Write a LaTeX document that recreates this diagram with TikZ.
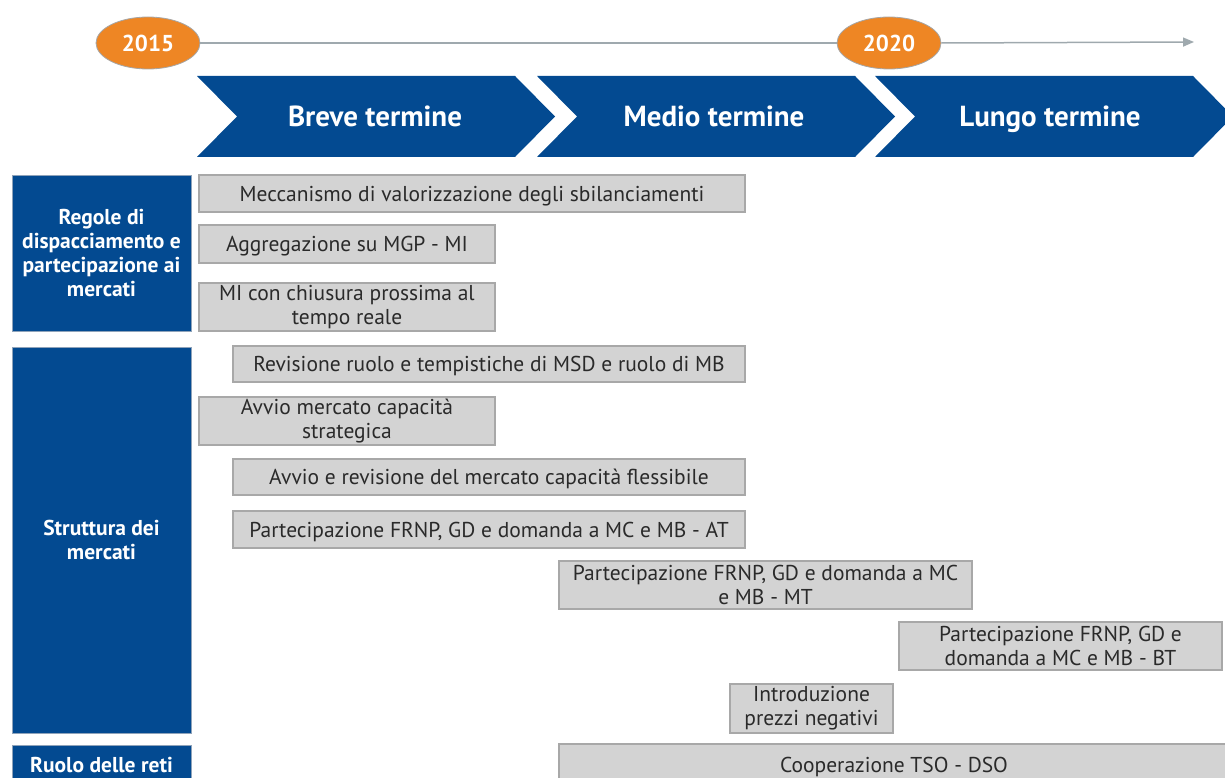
\documentclass[tikz,border=0pt]{standalone}
\usepackage{fontspec}
\setmainfont{PT Sans}
\usetikzlibrary{shapes.geometric,arrows.meta}
\definecolor{navy}{HTML}{034A91}
\definecolor{tlorange}{HTML}{EE8624}
\definecolor{boxgray}{HTML}{D3D3D3}
\definecolor{edgegray}{HTML}{A8A8A8}
\definecolor{linegray}{HTML}{9FA9AE}
\definecolor{areaedge}{HTML}{8FA3BA}
\definecolor{txt}{HTML}{2A2A2A}
\begin{document}
\begin{tikzpicture}[x=1pt,y=-1pt,
  task/.style={draw=edgegray, line width=1.2pt, fill=boxgray, anchor=north west,
    inner sep=1pt, outer sep=0pt, align=center, text=txt,
    font=\fontsize{21.5}{24}\selectfont},
  area/.style={draw=areaedge, line width=1pt, fill=navy, anchor=north west,
    inner sep=1pt, outer sep=0pt, align=center, text=white, minimum width=179,
    font=\fontsize{21.5}{24}\selectfont\bfseries},
  oneline/.style={text height=15.5pt, text depth=0pt},
  year/.style={ellipse, fill=tlorange, draw=gray!70, line width=0.8pt,
    minimum width=104, minimum height=52, inner sep=0pt, text=white,
    font=\fontsize{23}{24}\selectfont\bfseries},
  phase/.style={fill=navy},
  phaselabel/.style={anchor=base, text=white,
    font=\fontsize{29}{30}\selectfont\bfseries}]
\clip (0,0) rectangle (1225,778);

% timeline
\node[year] (y2015) at (148,43) {2015};
\node[year] (y2020) at (889,43) {2020};
\coordinate (tlend) at (1194,42);
\draw[linegray, line width=1.5pt] (y2015.east) -- (y2020.west);
\draw[linegray, line width=1.5pt, -{Triangle[length=11pt,width=9pt]}] (y2020.east) -- (tlend);

% phases
\path[phase] (197,76) -- (515,76) -- (555,116.5) -- (515,157) -- (197,157) -- (237,116.5) -- cycle;
\path[phase] (537,76) -- (855,76) -- (895,116.5) -- (855,157) -- (537,157) -- (577,116.5) -- cycle;
\path[phase] (875,76) -- (1193,76) -- (1233,116.5) -- (1193,157) -- (875,157) -- (915,116.5) -- cycle;
\node[phaselabel] (p1) at (375,127) {Breve termine};
\node[phaselabel] (p2) at (714,127) {Medio termine};
\node[phaselabel] (p3) at (1050,127) {Lungo termine};

% areas
\node[area, minimum height=155] (a1) at (12,176)
  {Regole di\\dispacciamento e\\partecipazione ai\\mercati};
\node[area, minimum height=386] (a2) at (12,347) {Struttura dei\\mercati};
\node[area, oneline, minimum height=40] (a3) at (12,745) {Ruolo delle reti};

% measures
\node[task, oneline, minimum width=546, minimum height=37] (t1) at (199,175)
  {Meccanismo di valorizzazione degli sbilanciamenti};
\node[task, oneline, minimum width=296, minimum height=38] (t2) at (199,225)
  {Aggregazione su MGP - MI};
\node[task, minimum width=296, minimum height=48] (t3) at (199,283)
  {MI con chiusura prossima al\\tempo reale};
\node[task, oneline, minimum width=512, minimum height=36] (t4) at (233,346)
  {Revisione ruolo e tempistiche di MSD e ruolo di MB};
\node[task, minimum width=296, minimum height=48] (t5) at (199,397)
  {Avvio mercato capacità\\strategica};
\node[task, oneline, minimum width=512, minimum height=36] (t6) at (233,459)
  {Avvio e revisione del mercato capacità flessibile};
\node[task, oneline, minimum width=512, minimum height=37] (t7) at (233,511)
  {Partecipazione FRNP, GD e domanda a MC e MB - AT};
\node[task, minimum width=413, minimum height=48] (t8) at (559,561)
  {Partecipazione FRNP, GD e domanda a MC\\e MB - MT};
\node[task, minimum width=323, minimum height=48] (t9) at (899,622)
  {Partecipazione FRNP, GD e\\domanda a MC e MB - BT};
\node[task, minimum width=163, minimum height=49] (t10) at (730,684)
  {Introduzione\\prezzi negativi};
\node[task, oneline, minimum width=670, minimum height=42] (t11) at (559,744)
  {Cooperazione TSO - DSO};
\end{tikzpicture}
\end{document}
